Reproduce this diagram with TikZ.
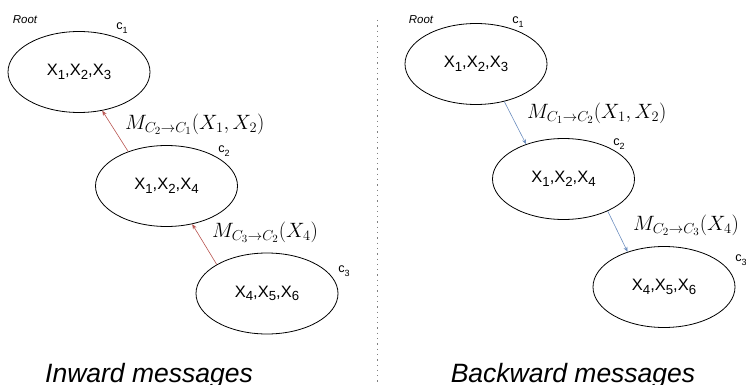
\documentclass[tikz,border=0pt]{standalone}
\usepackage{fontspec}
\setmainfont{Liberation Sans}
\usetikzlibrary{shapes.geometric,arrows.meta}

\definecolor{upmsg}{HTML}{B85450}
\definecolor{downmsg}{HTML}{6C8EBF}

% lowered index for clique contents
\newcommand{\lowidx}[1]{\raisebox{-0.22em}{\fontsize{13.2}{13.2}\selectfont #1}}
\newcommand{\cliquetag}[1]{c\raisebox{-0.3em}{\fontsize{9}{9}\selectfont #1}}

\begin{document}
\begin{tikzpicture}[x=1pt,y=-1pt,
  clique/.style={draw,ellipse,line width=0.8pt,minimum width=142pt,minimum height=81pt,inner sep=0pt,
    font=\fontsize{16.5}{19}\selectfont},
  tag/.style={font=\fontsize{12.6}{14}\selectfont,inner sep=0pt},
  roottag/.style={font=\fontsize{11.5}{13}\selectfont\itshape,inner sep=0pt},
  msg/.style={font=\fontsize{22}{25}\selectfont,inner sep=0pt,anchor=west},
  title/.style={font=\fontsize{26.5}{30}\selectfont\itshape,inner sep=0pt,anchor=base},
  upedge/.style={draw=upmsg,line width=0.6pt,-{Stealth[length=5pt,width=4pt]}},
  downedge/.style={draw=downmsg,line width=0.6pt,-{Stealth[length=5pt,width=4pt]}}]
\useasboundingbox (0,0) rectangle (746,385);

% ---- inward pass ----
\node[clique] (a1) at (79,72) {X\lowidx{1},X\lowidx{2},X\lowidx{3}};
\node[clique] (a2) at (166.5,186) {X\lowidx{1},X\lowidx{2},X\lowidx{4}};
\node[clique] (a3) at (267,293.5) {X\lowidx{4},X\lowidx{5},X\lowidx{6}};
\node[roottag] (aroot) at (25,20) {Root};
\node[tag] (at1) at (122,28) {\cliquetag{1}};
\node[tag] (at2) at (224,151) {\cliquetag{2}};
\node[tag] (at3) at (344,271) {\cliquetag{3}};
\draw[upedge] (a2.138.6) -- (a1.-59);
\draw[upedge] (a3.150.3) -- (a2.-56.5);
\node[msg] (am1) at (125,124) {$M_{C_2\rightarrow C_1}(X_1,X_2)$};
\node[msg] (am2) at (212,232) {$M_{C_3\rightarrow C_2}(X_4)$};
\node[title] (atitle) at (149,382) {Inward messages};

% ---- divider ----
\coordinate (dtop) at (377.7,20);
\coordinate (dbot) at (377.7,385);
\draw[gray,line width=1.3pt,dash pattern=on 1.3pt off 4pt] (dtop) -- (dbot);

% ---- backward pass ----
\node[clique] (b1) at (476,64) {X\lowidx{1},X\lowidx{2},X\lowidx{3}};
\node[clique] (b2) at (563.5,179) {X\lowidx{1},X\lowidx{2},X\lowidx{4}};
\node[clique] (b3) at (664,287) {X\lowidx{4},X\lowidx{5},X\lowidx{6}};
\node[roottag] (broot) at (421,20) {Root};
\node[tag] (bt1) at (518,22) {\cliquetag{1}};
\node[tag] (bt2) at (619,144) {\cliquetag{2}};
\node[tag] (bt3) at (741,260) {\cliquetag{3}};
\draw[downedge] (b1.-53.1) -- (b2.137.9);
\draw[downedge] (b2.-36.6) -- (b3.136.6);
\node[msg] (bm1) at (527,113) {$M_{C_1\rightarrow C_2}(X_1,X_2)$};
\node[msg] (bm2) at (633,225) {$M_{C_2\rightarrow C_3}(X_4)$};
\node[title] (btitle) at (573,382) {Backward messages};
\end{tikzpicture}
\end{document}
